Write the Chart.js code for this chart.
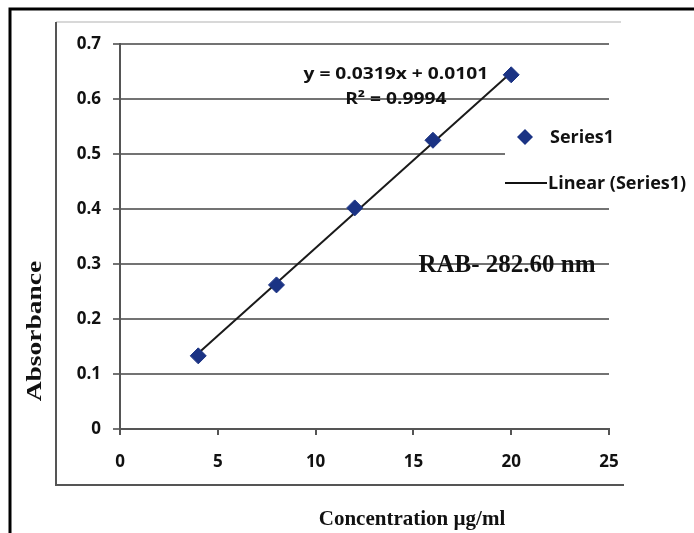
<!DOCTYPE html>
<html>
<head>
<meta charset="utf-8">
<script src="https://cdn.jsdelivr.net/npm/chart.js@4.4.1/dist/chart.umd.min.js"></script>
<style>
  html, body { margin: 0; padding: 0; background: #fff; }
  #wrap { position: relative; width: 694px; height: 533px; }
</style>
</head>
<body>
<div id="wrap"><canvas id="calib" width="694" height="533"></canvas></div>
<script>
// calibration data: concentration (ug/ml) vs absorbance
const concentration = [4, 8, 12, 16, 20];
const absorbance = [0.133, 0.262, 0.402, 0.525, 0.644];

// fitted line as reported on the chart
const slope = 0.0319;
const intercept = 0.0101;
const fitLabel = 'y = 0.0319x + 0.0101';
const r2Label = 'R\u00b2 = 0.9994';

const xTicks = [0, 5, 10, 15, 20, 25];
const yTicks = [0, 0.1, 0.2, 0.3, 0.4, 0.5, 0.6, 0.7];

const seriesName = 'Series1';
const trendName = 'Linear (Series1)';
const xTitle = 'Concentration \u00b5g/ml';
const yTitle = 'Absorbance';
const noteText = 'RAB- 282.60 nm';

const markerColor = '#1b3384';
const gridColor = '#737373';
const labelFont = '"Open Sans", "Liberation Sans", sans-serif';
const serifFont = '"Liberation Serif", "DejaVu Serif", serif';

const xMin = concentration[0];
const xMax = concentration[concentration.length - 1];
const trendPoints = [
  { x: xMin, y: slope * xMin + intercept },
  { x: xMax, y: slope * xMax + intercept }
];

// centred text, stretched sideways by sx
function wideText(c, text, x, y, sx) {
  c.save();
  c.translate(x, y);
  c.scale(sx, 1);
  c.fillText(text, 0, 0);
  c.restore();
}

// frames, titles, legend and annotations drawn on top of the chart
const decorations = {
  id: 'decorations',
  afterDraw(chart) {
    const c = chart.ctx;
    const xs = chart.scales.x;
    const ys = chart.scales.y;
    c.save();

    // outer black frame
    c.strokeStyle = '#000';
    c.lineWidth = 3;
    c.beginPath();
    c.moveTo(10, 533);
    c.lineTo(10, 9);
    c.lineTo(694, 9);
    c.stroke();

    // inner chart frame
    c.strokeStyle = '#d8d8d8';
    c.lineWidth = 2;
    c.beginPath();
    c.moveTo(56, 22);
    c.lineTo(621, 22);
    c.stroke();
    c.strokeStyle = '#555';
    c.lineWidth = 2;
    c.beginPath();
    c.moveTo(56, 22);
    c.lineTo(56, 485);
    c.lineTo(624, 485);
    c.stroke();

    // legend box
    c.fillStyle = '#fff';
    c.fillRect(505, 112, 189, 92);
    const ds0 = chart.data.datasets[0];
    c.fillStyle = ds0.backgroundColor;
    c.beginPath();
    c.moveTo(525, 129);
    c.lineTo(533, 137);
    c.lineTo(525, 145);
    c.lineTo(517, 137);
    c.closePath();
    c.fill();
    c.fillStyle = '#111';
    c.font = 'bold 18px ' + labelFont;
    c.textBaseline = 'middle';
    c.textAlign = 'left';
    c.fillText(seriesName, 550, 138);
    c.strokeStyle = '#111';
    c.lineWidth = 2;
    c.beginPath();
    c.moveTo(505, 183);
    c.lineTo(547, 183);
    c.stroke();
    c.fillText(trendName, 548, 184);

    // trend equation
    c.textAlign = 'center';
    c.font = 'bold 16px ' + labelFont;
    wideText(c, fitLabel, xs.getPixelForValue(14.1), ys.getPixelForValue(0.645), 1.2);
    wideText(c, r2Label, xs.getPixelForValue(14.1), ys.getPixelForValue(0.6), 1.2);

    // wavelength note
    c.font = 'bold 25px ' + serifFont;
    c.fillText(noteText, 507, 266);

    // axis titles
    c.font = 'bold 21px ' + serifFont;
    c.fillText(xTitle, 412, 520);
    c.font = 'bold 22px ' + serifFont;
    c.translate(35, 331);
    c.rotate(-Math.PI / 2);
    wideText(c, yTitle, 0, 0, 1.25);

    c.restore();
  }
};

new Chart(document.getElementById('calib'), {
  type: 'scatter',
  data: {
    datasets: [
      {
        label: seriesName,
        data: concentration.map((x, i) => ({ x: x, y: absorbance[i] })),
        backgroundColor: markerColor,
        borderColor: markerColor,
        pointStyle: 'rectRot',
        pointRadius: 8,
        pointHoverRadius: 8,
        order: 0
      },
      {
        label: trendName,
        type: 'line',
        data: trendPoints,
        borderColor: '#1a1a1a',
        borderWidth: 2,
        pointRadius: 0,
        fill: false,
        order: 1
      }
    ]
  },
  options: {
    responsive: false,
    animation: false,
    layout: { padding: { top: 44, right: 85, left: 0, bottom: 0 } },
    plugins: {
      legend: { display: false },
      tooltip: { enabled: false }
    },
    scales: {
      x: {
        type: 'linear',
        min: 0,
        max: 25,
        afterFit(scale) { scale.height = 104; },
        afterBuildTicks(scale) { scale.ticks = xTicks.map(v => ({ value: v })); },
        border: { color: '#555', width: 2 },
        grid: { drawOnChartArea: false, drawTicks: true, tickLength: 6, color: '#555', lineWidth: 2 },
        ticks: {
          padding: 17,
          color: '#111',
          font: { family: labelFont, size: 17, weight: 'bold' }
        }
      },
      y: {
        min: 0,
        max: 0.7,
        afterFit(scale) { scale.width = 120; },
        afterBuildTicks(scale) { scale.ticks = yTicks.map(v => ({ value: v })); },
        border: { color: '#555', width: 2 },
        grid: { color: gridColor, lineWidth: 2, tickLength: 7 },
        ticks: {
          padding: 12,
          color: '#111',
          font: { family: labelFont, size: 17, weight: 'bold' },
          callback: v => String(v)
        }
      }
    }
  },
  plugins: [decorations]
});
</script>
</body>
</html>
